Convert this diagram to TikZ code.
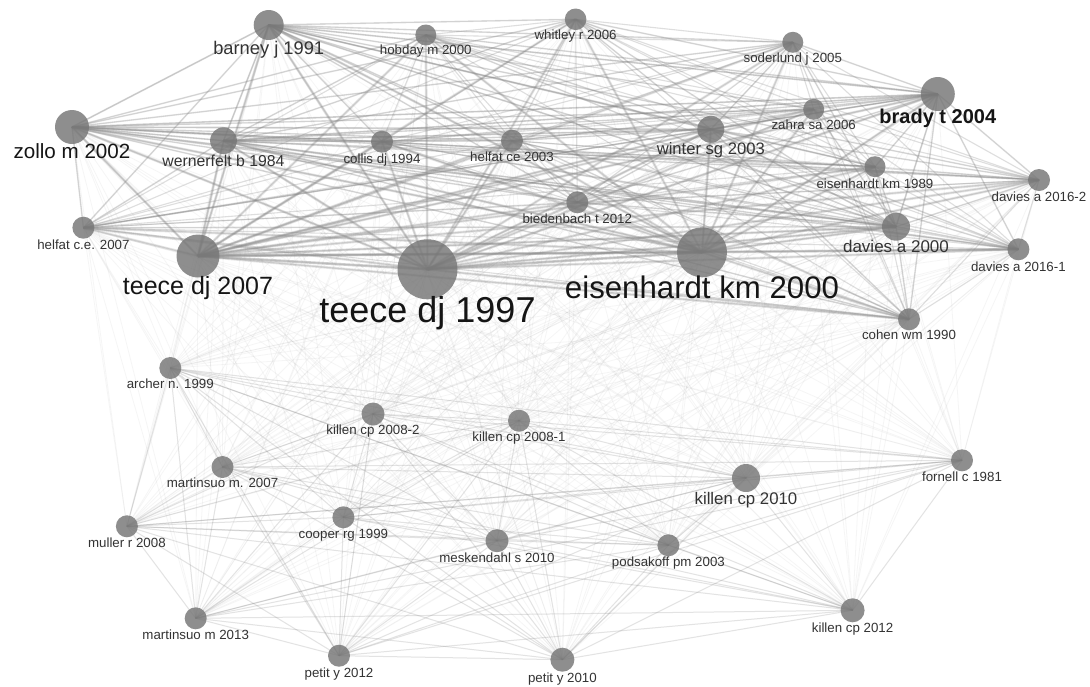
\documentclass[tikz,border=0pt]{standalone}
\usepackage{fontspec}
\setmainfont{Liberation Sans}
\usetikzlibrary{backgrounds}
\definecolor{nodegray}{HTML}{767676}
\definecolor{edgegray}{HTML}{8A8A8A}
\definecolor{labgray}{HTML}{333333}
\definecolor{labdark}{HTML}{151515}
\tikzset{
  vtx/.style={circle, fill=nodegray, fill opacity=0.82, draw=none, inner sep=0pt},
  lab/.style={text=labgray, anchor=base, inner sep=0pt},
  etop/.style={draw=edgegray, line width=1.1pt, draw opacity=0.28},
  emid/.style={draw=edgegray, line width=1.6pt, draw opacity=0.14},
  ehub/.style={draw=edgegray, line width=2.6pt, draw opacity=0.22},
  ebot/.style={draw=edgegray, line width=1pt, draw opacity=0.24},
  ecross/.style={draw=edgegray, line width=0.8pt, draw opacity=0.08},
}
\newcommand\vtxnode[7]{%
  \node[vtx, minimum size=2*#4 pt] (#1) at (#2,#3) {};
  \node[lab, font=\fontsize{#6}{#6}\selectfont, yshift=-0.36*#6 pt] (#1-l) at (#2,#7) {#5};
}
\def\toplist{barney,hobday,whitley,soderlund,brady,zahra,winter,eis89,dav16b,bied,helfat03,collis,wern,zollo,helfat07,teece07,teece97,eis00,dav00,dav16a,cohen}
\def\botlist{archer,k082,k081,mart07,cooper,muller,mesk,k10,fornell,pods,k12,mart13,petit12,petit10}
\begin{document}
\begin{tikzpicture}[x=1pt,y=-1pt]
\useasboundingbox (0,0) rectangle (1090,686);
% top cluster
\vtxnode{barney}{268.7}{25}{15}{barney j 1991}{18.3}{48}
\vtxnode{hobday}{425.8}{35}{10.5}{hobday m 2000}{13.3}{50}
\vtxnode{whitley}{575.6}{19.3}{10.8}{whitley r 2006}{13.3}{34.3}
\vtxnode{soderlund}{792.8}{42.3}{10.5}{soderlund j 2005}{13.3}{57.7}
\vtxnode{brady}{937.8}{94}{17}{\bfseries\color{labdark}brady t 2004}{20}{116.7}
\vtxnode{zahra}{813.7}{109.3}{10.5}{zahra sa 2006}{13.3}{125}
\vtxnode{winter}{710.8}{129.3}{13.5}{winter sg 2003}{16.6}{149}
\vtxnode{eis89}{875}{166.7}{10.5}{eisenhardt km 1989}{13.3}{183.3}
\vtxnode{dav16b}{1039}{180}{11}{davies a 2016-2}{13.3}{196.7}
\vtxnode{bied}{577.3}{202.3}{11}{biedenbach t 2012}{13.3}{219}
\vtxnode{helfat03}{512}{140.7}{11}{helfat ce 2003}{13.3}{156.7}
\vtxnode{collis}{382}{141.7}{11}{collis dj 1994}{13.3}{159}
\vtxnode{wern}{223.5}{140.7}{13.4}{wernerfelt b 1984}{15.8}{160.7}
\vtxnode{zollo}{72}{127}{17}{\color{labdark}zollo m 2002}{20.6}{150.7}
\vtxnode{helfat07}{83.4}{227.7}{11}{helfat c.e. 2007}{13.3}{245}
\vtxnode{teece07}{198}{256}{21.5}{\color{labdark}teece dj 2007}{25}{285.7}
\vtxnode{teece97}{427.5}{269.3}{30}{\color{labdark}teece dj 1997}{36}{310}
\vtxnode{eis00}{702}{252.3}{25}{\color{labdark}eisenhardt km 2000}{31.2}{287.3}
\vtxnode{dav00}{896}{226.7}{14}{davies a 2000}{17}{246}
\vtxnode{dav16a}{1018.4}{249.3}{11}{davies a 2016-1}{13.3}{266.7}
\vtxnode{cohen}{909}{319.3}{11}{cohen wm 1990}{13.3}{335}
% bottom cluster
\vtxnode{archer}{170.3}{368}{11}{archer n. 1999}{13.3}{384}
\vtxnode{k082}{373}{414}{11.5}{killen cp 2008-2}{13.3}{429.7}
\vtxnode{k081}{519}{420.7}{11}{killen cp 2008-1}{13.3}{437}
\vtxnode{mart07}{222.5}{467}{11}{martinsuo m. 2007}{13.3}{482.3}
\vtxnode{cooper}{343.4}{517.3}{11}{cooper rg 1999}{13.3}{534}
\vtxnode{muller}{126.9}{526.3}{11}{muller r 2008}{13.3}{543}
\vtxnode{mesk}{497}{540.7}{11.5}{meskendahl s 2010}{13.3}{558}
\vtxnode{k10}{746}{478}{14}{killen cp 2010}{16.8}{498}
\vtxnode{fornell}{962}{460.3}{11}{fornell c 1981}{13.3}{476.3}
\vtxnode{pods}{668.4}{545.3}{11}{podsakoff pm 2003}{13.3}{562}
\vtxnode{k12}{852.6}{610.3}{12}{killen cp 2012}{13.3}{628}
\vtxnode{mart13}{195.7}{618.3}{11}{martinsuo m 2013}{13.3}{634.7}
\vtxnode{petit12}{339}{655.7}{11}{petit y 2012}{13.3}{672.3}
\vtxnode{petit10}{562.4}{659.7}{12}{petit y 2010}{13.3}{677.3}
\begin{pgfonlayer}{background}
\fill[white] (0,0) rectangle (1090,686);
% cross-cluster links
\foreach \a in \toplist {
  \foreach \b in \botlist {
    \draw[ecross] (\a.center) -- (\b.center);
  }
}
% bottom cluster links
\foreach \a [count=\i] in \botlist {
  \foreach \b [count=\j] in \botlist {
    \ifnum\j>\i \draw[ebot] (\a.center) -- (\b.center); \fi
  }
}
% top cluster links
\foreach \a [count=\i] in \toplist {
  \foreach \b [count=\j] in \toplist {
    \ifnum\j>\i \draw[etop] (\a.center) -- (\b.center); \fi
  }
}
\foreach \h in {zollo,brady,barney,wern,winter,dav00} {
  \foreach \b in \toplist {
    \draw[emid] (\h.center) -- (\b.center);
  }
}
\foreach \h in {teece97,eis00,teece07} {
  \foreach \b in \toplist {
    \draw[ehub] (\h.center) -- (\b.center);
  }
}
\end{pgfonlayer}
\end{tikzpicture}
\end{document}
